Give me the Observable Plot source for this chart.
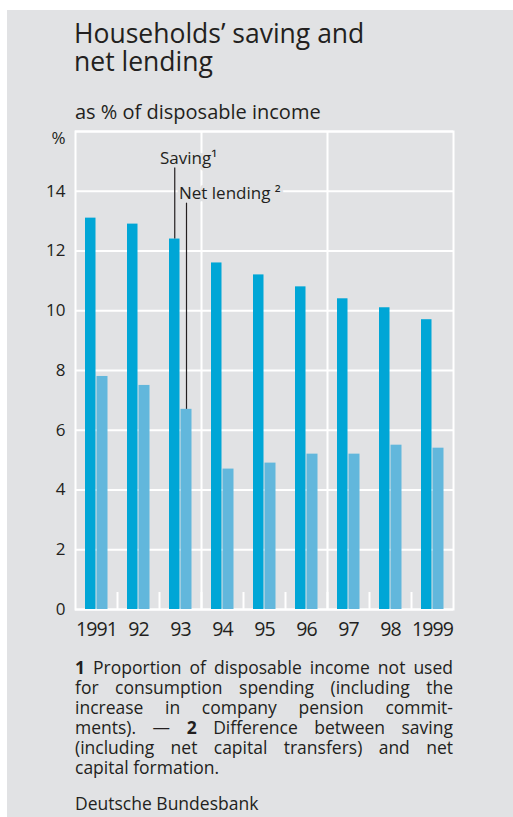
<!DOCTYPE html>
<html>
<head>
<meta charset="utf-8">
<script src="https://cdn.jsdelivr.net/npm/d3@7"></script>
<script src="https://cdn.jsdelivr.net/npm/@observablehq/plot@0.6"></script>
<style>
  html, body { margin: 0; padding: 0; background: #ffffff; }
  body { width: 513px; height: 817px; position: relative; overflow: hidden; font-family: "Open Sans", sans-serif; color: #231f20; }
  #panel { position: absolute; left: 7px; top: 10px; width: 506px; height: 807px; background: #e1e2e4; }
  #title { position: absolute; left: 74px; top: 20px; font-size: 26.5px; line-height: 27.5px; }
  #subtitle { position: absolute; left: 75px; top: 100px; font-size: 20px; line-height: 24px; }
  #chart { position: absolute; left: 0; top: 120px; }
  #chart g[aria-label="x-axis tick label"], #chart g[aria-label="x-axis tick label"] text { font-size: 19.5px !important; letter-spacing: -0.9px; }
  #chart g[aria-label="y-axis tick label"], #chart g[aria-label="y-axis tick label"] text { font-size: 17px !important; }
  #notes { position: absolute; left: 75px; top: 657px; width: 378px; font-size: 17.5px; line-height: 20px; }
  #notes .j { text-align: justify; text-align-last: justify; }
  #source { position: absolute; left: 75px; top: 793px; font-size: 17.5px; line-height: 20px; }
</style>
</head>
<body>
<div id="panel"></div>
<div id="title">Households’ saving and<br>net lending</div>
<div id="subtitle">as % of disposable income</div>
<div id="chart"></div>
<div id="notes">
  <div class="j"><b>1</b> Proportion of disposable income not used</div>
  <div class="j">for consumption spending (including the</div>
  <div class="j">increase in company pension commit-</div>
  <div class="j">ments). — <b>2</b> Difference between saving</div>
  <div class="j">(including net capital transfers) and net</div>
  <div>capital formation.</div>
</div>
<div id="source">Deutsche Bundesbank</div>
<script>
// ---- data ----
const years = ["1991", "1992", "1993", "1994", "1995", "1996", "1997", "1998", "1999"];
const xLabels = ["1991", "92", "93", "94", "95", "96", "97", "98", "1999"];
const saving = [13.1, 12.9, 12.4, 11.6, 11.2, 10.8, 10.4, 10.1, 9.7];
const netLending = [7.8, 7.5, 6.7, 4.7, 4.9, 5.2, 5.2, 5.5, 5.4];
const yTicks = [0, 2, 4, 6, 8, 10, 12, 14];
const gridValues = [0, 2, 4, 6, 8, 10, 12, 14, 16];
const groupEnds = ["1993", "1996"];
// annotation labels (anchored at 1993 bars)
const savingNote = [{year: "1993", text: "Saving¹", labelY: 15.1, lineTop: 14.78, value: 12.4}];
const netNote = [{year: "1993", text: "Net lending ²", labelY: 13.92, lineTop: 13.6, value: 6.7}];

const table = years.map((y, i) => ({year: y, saving: saving[i], net: netLending[i]}));

// ---- layout ----
const W = 513, H = 540;
const mL = 75, mR = 60, mT = 11, mB = 51;
const bw = (W - mL - mR) / years.length;
const plotH = H - mT - mB;
const bg = "#e1e2e4";
const ink = "#231f20";
const cSaving = "#00a6d6";
const cNet = "#62b7dc";

const chart = Plot.plot({
  width: W,
  height: H,
  marginLeft: mL,
  marginRight: mR,
  marginTop: mT,
  marginBottom: mB,
  style: {background: "transparent", fontFamily: "Open Sans, sans-serif", fontSize: "17px", color: ink},
  x: {type: "band", domain: years, padding: 0, round: false},
  y: {domain: [0, 16]},
  marks: [
    Plot.ruleY(gridValues, {stroke: "white", strokeWidth: 2}),
    Plot.frame({stroke: "white", strokeWidth: 2}),
    Plot.ruleX(groupEnds, {x: d => d, dx: bw / 2, stroke: "white", strokeWidth: 2}),
    Plot.ruleX(years.slice(1), {x: d => d, dx: -bw / 2, insetTop: plotH - 17, stroke: "white", strokeWidth: 2}),
    Plot.barY(table, {x: "year", y: "saving", fill: cSaving, insetLeft: 10, insetRight: bw - 20.5}),
    Plot.barY(table, {x: "year", y: "net", fill: cNet, insetLeft: 21.5, insetRight: 9.5}),
    Plot.ruleX(savingNote, {x: "year", y1: "value", y2: "lineTop", dx: 15.25 - bw / 2, stroke: ink, strokeWidth: 1.2}),
    Plot.ruleX(netNote, {x: "year", y1: "value", y2: "lineTop", dx: 27 - bw / 2, stroke: ink, strokeWidth: 1.2}),
    Plot.text(savingNote, {x: "year", y: "labelY", text: "text", textAnchor: "start", dx: -20.5, fill: ink, stroke: bg, strokeWidth: 6, fontSize: 17}),
    Plot.text(netNote, {x: "year", y: "labelY", text: "text", textAnchor: "start", dx: -1.5, fill: ink, stroke: bg, strokeWidth: 6, fontSize: 17}),
    Plot.axisY({ticks: yTicks, tickSize: 0, tickPadding: 10, label: null, fontSize: 17}),
    Plot.text([16], {y: d => d, text: () => "%", frameAnchor: "left", dx: -10, dy: 7, textAnchor: "end", fontSize: 17, fill: ink}),
    Plot.axisX({tickSize: 0, tickPadding: 13, label: null, fontSize: 19.5, tickFormat: d => xLabels[years.indexOf(d)]})
  ]
});

document.getElementById("chart").appendChild(chart);
</script>
</body>
</html>
